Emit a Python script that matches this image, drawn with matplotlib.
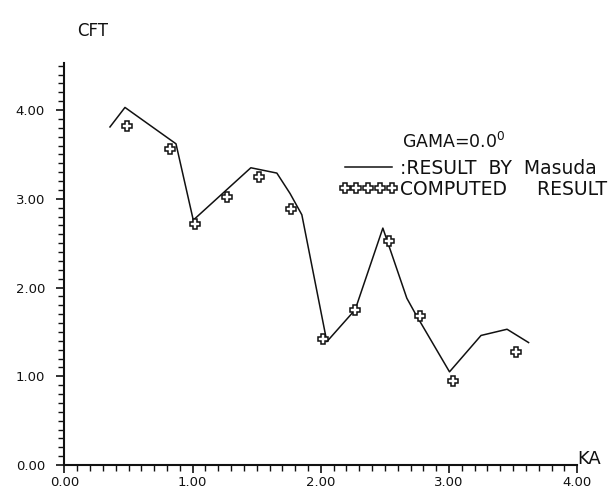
import numpy as np
import matplotlib
matplotlib.use("Agg")
import matplotlib.pyplot as plt
from matplotlib.ticker import MultipleLocator, FormatStrFormatter

# Masuda result (solid line)
masuda_ka = [0.355, 0.472, 0.870, 1.005, 1.454, 1.657, 1.760, 1.852, 2.047, 2.268,
             2.484, 2.671, 2.736, 3.004, 3.250, 3.453, 3.621]
masuda_cft = [3.81, 4.03, 3.62, 2.76, 3.35, 3.29, 3.06, 2.82, 1.39, 1.75,
              2.67, 1.88, 1.71, 1.05, 1.46, 1.53, 1.38]

# computed result (cross markers)
comp_ka = [0.49, 0.82, 1.02, 1.27, 1.52, 1.77, 2.02, 2.27, 2.53, 2.77, 3.03, 3.52]
comp_cft = [3.82, 3.56, 2.72, 3.02, 3.25, 2.88, 1.42, 1.75, 2.52, 1.68, 0.95, 1.27]

plt.rcParams['font.family'] = ['DejaVu Sans']
ink = '#111111'

fig = plt.figure(figsize=(6.14, 4.95), dpi=100)
ax = fig.add_axes([0.105, 0.0606, 0.835, 0.812])

line, = ax.plot(masuda_ka, masuda_cft, color=ink, lw=1.1)
pts, = ax.plot(comp_ka, comp_cft, linestyle='none', marker='P', markersize=7,
               markerfacecolor='white', markeredgecolor=ink, markeredgewidth=1.1)

ax.set_xlim(0, 4.0)
ax.set_ylim(0, 4.53)
for s in ['top', 'right']:
    ax.spines[s].set_visible(False)
for s in ['left', 'bottom']:
    ax.spines[s].set_linewidth(1.5)
    ax.spines[s].set_color(ink)

ax.xaxis.set_major_locator(MultipleLocator(1.0))
ax.xaxis.set_minor_locator(MultipleLocator(0.1))
ax.yaxis.set_major_locator(MultipleLocator(1.0))
ax.yaxis.set_minor_locator(MultipleLocator(0.1))
ax.xaxis.set_major_formatter(FormatStrFormatter('%.2f'))
ax.yaxis.set_major_formatter(FormatStrFormatter('%.2f'))
ax.tick_params(axis='both', which='major', length=6, width=1.2, colors=ink,
               labelsize=9.5, direction='out', pad=2)
ax.tick_params(axis='both', which='minor', length=4, width=1.0, colors=ink,
               direction='out')
ax.tick_params(axis='y', which='major', pad=8)

fig.text(93 / 614, 1 - 31 / 495, 'CFT', fontsize=12, color=ink, ha='center', va='center')
fig.text(577 / 614, 1 - 459 / 495, 'KA', fontsize=13, color=ink, ha='left', va='center')

fig.text(402 / 614, 1 - 142 / 495, 'GAMA=0.0$^0$', fontsize=12.5, color=ink,
         ha='left', va='center')
ax.legend([line, pts], [':RESULT  BY  Masuda', 'COMPUTED     RESULT'],
          loc='upper left', bbox_to_anchor=(339 / 614, 1 - 159 / 495),
          bbox_transform=fig.transFigure, frameon=False, numpoints=5,
          markerscale=1.0, handlelength=3.1, handletextpad=0.15,
          labelspacing=0.1, fontsize=13.5, borderaxespad=0, borderpad=0,
          labelcolor=ink)

fig.savefig('out.png', dpi=100)
